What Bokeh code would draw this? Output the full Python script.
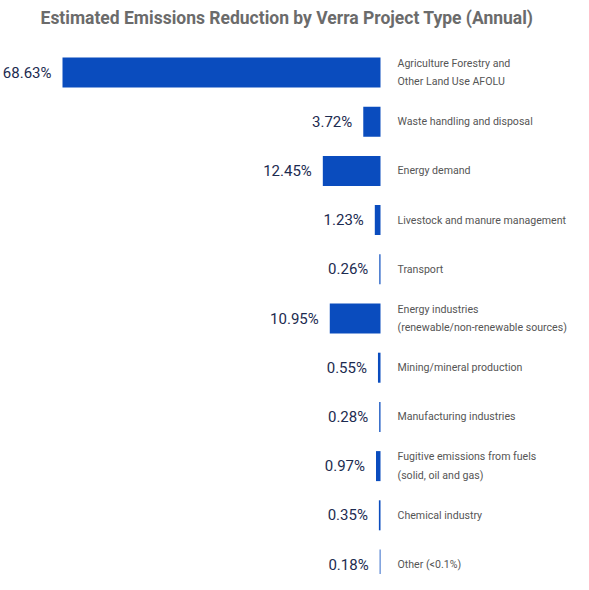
from bokeh.core.properties import value
from bokeh.embed import file_html
from bokeh.models import ColumnDataSource, Range1d
from bokeh.plotting import figure
from bokeh.resources import INLINE

# project types, top to bottom
categories = [
    "Agriculture Forestry and\nOther Land Use AFOLU",
    "Waste handling and disposal",
    "Energy demand",
    "Livestock and manure management",
    "Transport",
    "Energy industries\n(renewable/non-renewable sources)",
    "Mining/mineral production",
    "Manufacturing industries",
    "Fugitive emissions from fuels\n(solid, oil and gas)",
    "Chemical industry",
    "Other (<0.1%)",
]
shares = [68.63, 3.72, 12.45, 1.23, 0.26, 10.95, 0.55, 0.28, 0.97, 0.35, 0.18]

source = ColumnDataSource(data=dict(
    row=list(range(len(categories))),
    left=[-v for v in shares],
    zero=[0] * len(shares),
    share_label=[f"{v:.2f}%" for v in shares],
    category=categories,
))

p = figure(
    width=573, height=574,
    x_range=Range1d(-82.01, 41.65),
    y_range=Range1d(10.203, -0.813),
    title="Estimated Emissions Reduction by Verra Project Type (Annual)",
    x_axis_location=None, y_axis_location=None,
    output_backend="svg",
    toolbar_location=None,
    min_border=0,
)
p.title.align = "center"
p.title.text_font = "Roboto"
p.title.text_font_size = "17.5px"
p.title.text_font_style = "bold"
p.title.text_color = "#6b6b6b"

p.hbar(y="row", left="left", right="zero", height=0.61, source=source,
       fill_color="#0a4cbe", line_color=None)

# percentage next to the bar end
p.text(x="left", y="row", text="share_label", source=source,
       x_offset=-11, text_align="right", text_baseline="middle",
       text_font=value("Roboto"), text_font_size="15px", text_color="#1c2b50")

# project type names on the right
p.text(x="zero", y="row", text="category", source=source,
       x_offset=17, text_align="left", text_baseline="middle",
       text_font=value("Roboto"), text_font_size="10.6px", text_color="#555555",
       text_line_height=1.45)

p.grid.visible = False
p.outline_line_color = None

open("out.html", "w").write(file_html(p, INLINE))
